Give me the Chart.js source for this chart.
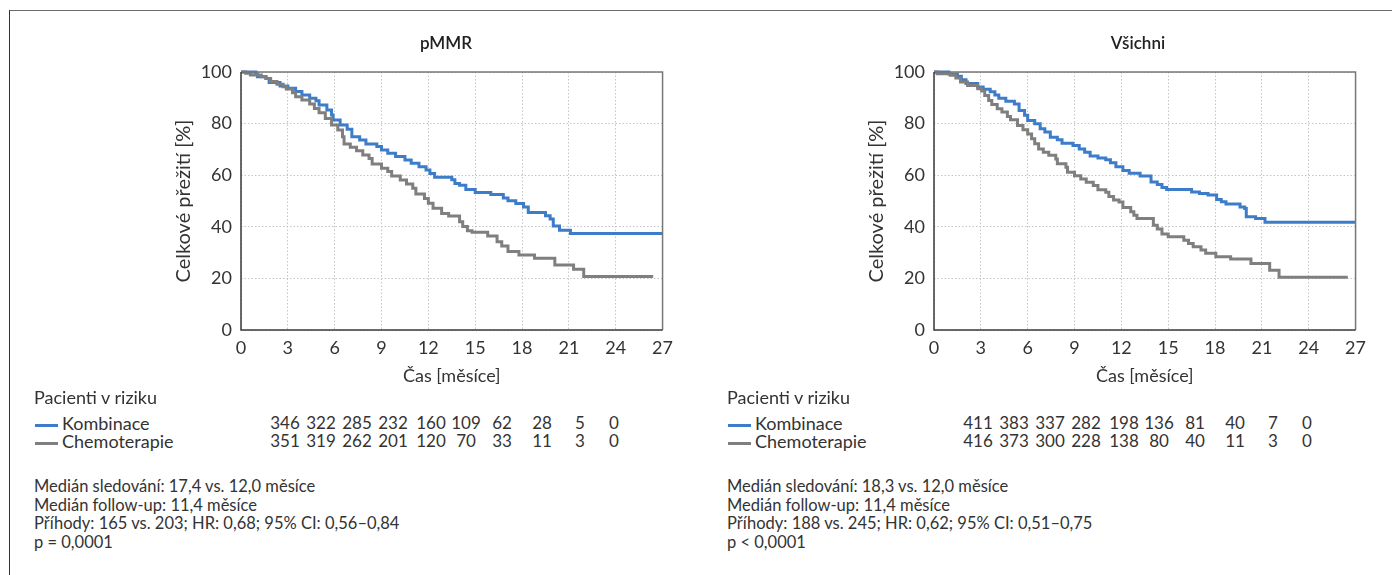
<!DOCTYPE html>
<html>
<head>
<meta charset="utf-8">
<script src="https://cdn.jsdelivr.net/npm/chart.js@4.4.0/dist/chart.umd.min.js"></script>
<style>
  body { margin: 0; background: #fff; font-family: Lato, "Open Sans", sans-serif; color: #333; }
  #page { position: relative; width: 1392px; height: 575px; overflow: hidden; }
  .frameTop { position: absolute; left: 9px; top: 10px; width: 1383px; height: 0; border-top: 1.5px solid #6b6b6b; }
  .frameLeft { position: absolute; left: 9px; top: 10px; width: 0; height: 565px; border-left: 1.5px solid #333; }
  canvas { position: absolute; }
  .txt { position: absolute; white-space: nowrap; font-size: 16.5px; line-height: 18.7px; }
  .risk { position: absolute; white-space: nowrap; font-size: 18px; line-height: 18px; }
  .num { position: absolute; width: 40px; margin-left: -20px; text-align: center; font-size: 17px; }
  .dash { display: inline-block; width: 23px; height: 2.5px; vertical-align: middle; margin-right: 4px; }
</style>
</head>
<body>
<div id="page">
  <div class="frameTop"></div>
  <div class="frameLeft"></div>
  <canvas id="chartPmmr" width="540" height="380" style="left:140px; top:20px;"></canvas>
  <canvas id="chartAll" width="540" height="380" style="left:833px; top:20px;"></canvas>
  <div id="tableLeft"></div>
  <div id="tableRight"></div>
</div>
<script>
// pMMR - Kaplan-Meier (months, % survival)
const pmmrKombT = [0, 0.95, 1.05, 1.6, 1.8, 2.5, 3.0, 3.5, 3.9, 4.4, 4.8, 5.0, 5.5, 5.8, 5.9, 6.35, 6.8, 7.1, 7.6, 8.0, 8.7, 9.0, 9.4, 9.9, 10.5, 10.9, 11.4, 11.85, 12.1, 12.4, 13.5, 13.7, 14.0, 14.4, 15.0, 16.0, 16.8, 17.1, 17.6, 18.1, 18.4, 19.5, 19.8, 20.0, 20.4, 21.1, 27];
const pmmrKombS = [100, 99.2, 98.2, 97.5, 95.9, 94.6, 93.7, 92.4, 91.1, 89.8, 88.9, 87.2, 85.3, 83.3, 81.4, 79.5, 77.8, 74.9, 73.6, 72.1, 71.1, 69.8, 68.5, 67.2, 65.9, 64.6, 63.3, 62.0, 60.7, 59.2, 58.2, 56.8, 56.1, 54.5, 53.3, 52.5, 51.2, 50.1, 49.0, 47.7, 45.5, 44.3, 43.0, 40.3, 38.7, 37.4, 37.4];
const pmmrChemoT = [0, 0.3, 0.6, 1.3, 1.6, 1.9, 2.3, 2.7, 2.9, 3.3, 3.5, 3.9, 4.4, 4.7, 5.0, 5.4, 5.8, 6.2, 6.5, 6.6, 7.0, 7.4, 7.8, 8.2, 8.4, 9.0, 9.4, 9.65, 10.2, 10.6, 11.0, 11.2, 11.75, 12.0, 12.3, 12.85, 13.3, 14.0, 14.2, 14.5, 14.8, 15.8, 16.4, 16.7, 17.1, 17.8, 18.8, 20.1, 21.3, 21.95, 26.4];
const pmmrChemoS = [100, 99.5, 98.8, 98.2, 97.5, 96.3, 95.3, 94.3, 93.4, 92.0, 90.4, 89.1, 87.6, 85.9, 84.2, 82.0, 79.5, 77.5, 74.9, 72.1, 70.8, 69.5, 67.8, 66.5, 64.3, 62.7, 61.4, 59.7, 58.1, 56.6, 54.9, 52.7, 51.0, 49.1, 47.2, 45.2, 44.2, 42.0, 40.1, 38.5, 37.9, 36.4, 34.2, 32.6, 30.4, 29.1, 27.8, 25.2, 23.5, 20.7, 20.7];

// Všichni
const allKombT = [0, 0.95, 1.5, 1.75, 2.05, 2.8, 3.15, 3.6, 3.9, 4.15, 4.6, 5.15, 5.45, 5.8, 6.0, 6.45, 6.8, 7.1, 7.45, 7.9, 8.2, 8.9, 9.3, 9.65, 10.0, 10.5, 11.0, 11.3, 11.65, 12.1, 12.5, 13.2, 13.9, 14.3, 14.6, 14.9, 16.5, 17.0, 17.55, 18.1, 18.4, 18.7, 19.6, 19.9, 20.0, 20.6, 21.2, 27];
const allKombS = [100, 99.2, 98.4, 97.0, 95.5, 94.2, 93.3, 92.3, 91.1, 89.8, 88.7, 87.6, 85.1, 83.2, 81.2, 79.9, 78.0, 76.7, 74.7, 73.7, 72.4, 71.5, 70.2, 68.9, 67.4, 66.7, 66.0, 64.8, 63.3, 61.8, 60.8, 59.7, 57.4, 56.4, 55.2, 54.5, 53.5, 52.9, 52.3, 50.6, 49.7, 48.8, 47.7, 47.1, 43.9, 43.2, 41.8, 41.8];
const allChemoT = [0, 0.2, 1.05, 1.4, 1.7, 2.15, 2.8, 3.05, 3.25, 3.5, 3.7, 4.05, 4.35, 4.7, 4.9, 5.35, 5.7, 6.0, 6.25, 6.45, 6.7, 7.0, 7.35, 7.8, 7.9, 8.45, 8.55, 9.0, 9.4, 9.75, 10.2, 10.5, 11.0, 11.2, 11.5, 11.85, 12.1, 12.6, 12.8, 13.0, 14.05, 14.3, 14.6, 15.0, 16.0, 16.3, 16.6, 17.1, 17.4, 18.05, 19.0, 20.3, 21.5, 22.1, 26.5];
const allChemoS = [100, 99.3, 98.7, 97.7, 96.1, 94.8, 93.5, 92.6, 90.9, 89.0, 87.4, 85.8, 84.5, 82.8, 81.5, 79.3, 77.6, 76.0, 74.1, 72.2, 70.2, 68.9, 67.7, 66.3, 64.4, 63.1, 61.1, 59.8, 58.5, 57.3, 56.0, 54.4, 53.4, 51.7, 50.4, 49.6, 47.5, 45.8, 44.5, 43.2, 40.6, 39.1, 37.2, 36.1, 34.8, 33.5, 32.3, 31.0, 29.7, 28.4, 27.5, 25.8, 23.2, 20.4, 20.4];

// pacienti v riziku
const seriesNames = ['Kombinace', 'Chemoterapie'];
const riskPmmrKomb = [346, 322, 285, 232, 160, 109, 62, 28, 5, 0];
const riskPmmrChemo = [351, 319, 262, 201, 120, 70, 33, 11, 3, 0];
const riskAllKomb = [411, 383, 337, 282, 198, 136, 81, 40, 7, 0];
const riskAllChemo = [416, 373, 300, 228, 138, 80, 40, 11, 3, 0];

const statsPmmr = ['Medián sledování: 17,4 vs. 12,0 měsíce', 'Medián follow-up: 11,4 měsíce', 'Příhody: 165 vs. 203; HR: 0,68; 95% CI: 0,56–0,84', 'p = 0,0001'];
const statsAll = ['Medián sledování: 18,3 vs. 12,0 měsíce', 'Medián follow-up: 11,4 měsíce', 'Příhody: 188 vs. 245; HR: 0,62; 95% CI: 0,51–0,75', 'p < 0,0001'];

const BLUE = '#3d7cc9';
const GREY = '#7f7f7f';
const FONT = 'Lato, "Open Sans", sans-serif';

// rámeček kolem plochy grafu + nadpis panelu
const frame = {
  id: 'frame',
  afterDraw(chart, args, opts) {
    const {ctx, chartArea: a} = chart;
    ctx.save();
    ctx.lineWidth = 1.5;
    ctx.strokeStyle = '#777';
    ctx.beginPath();
    ctx.moveTo(a.left, a.top); ctx.lineTo(a.right, a.top); ctx.lineTo(a.right, a.bottom);
    ctx.stroke();
    ctx.strokeStyle = '#3a3a3a';
    ctx.beginPath();
    ctx.moveTo(a.left, a.top); ctx.lineTo(a.left, a.bottom); ctx.lineTo(a.right, a.bottom);
    ctx.stroke();
    ctx.fillStyle = '#222';
    ctx.font = '600 17px ' + FONT;
    ctx.textAlign = 'center';
    ctx.textBaseline = 'middle';
    ctx.fillText(opts.text, opts.x, 24);
    ctx.restore();
  }
};

function pts(t, s) { return t.map((x, i) => ({x: x, y: s[i]})); }

function makeChart(id, title, titleX, kT, kS, cT, cS) {
  const ds = (data, color) => ({
    data: data, borderColor: color, borderWidth: 3, pointRadius: 0,
    stepped: 'before', fill: false, clip: 4
  });
  return new Chart(document.getElementById(id), {
    type: 'line',
    data: { datasets: [ds(pts(cT, cS), GREY), ds(pts(kT, kS), BLUE)] },
    options: {
      responsive: false, animation: false, devicePixelRatio: 1,
      layout: { padding: { left: 0, right: 17, top: 52, bottom: 0 } },
      plugins: {
        legend: { display: false }, tooltip: { enabled: false }, title: { display: false },
        frame: { text: title, x: titleX }
      },
      scales: {
        x: {
          type: 'linear', min: 0, max: 27,
          ticks: { stepSize: 3, color: '#333', padding: 7, font: { family: FONT, size: 18 } },
          grid: { color: '#c4c4c4', lineWidth: 1, drawTicks: false },
          border: { display: false, dash: [1.5, 2] },
          title: { display: true, text: 'Čas [měsíce]', color: '#333',
                   font: { family: FONT, size: 18 }, padding: { top: 0, bottom: 13 } },
          afterFit(s) { s.height = 70; }
        },
        y: {
          min: 0, max: 100,
          ticks: { stepSize: 20, color: '#333', padding: 9, font: { family: FONT, size: 18 } },
          grid: { color: '#c4c4c4', lineWidth: 1, drawTicks: false },
          border: { display: false, dash: [1.5, 2] },
          title: { display: true, text: 'Celkové přežití [%]', color: '#333',
                   font: { family: FONT, size: 20 }, padding: { top: 32, bottom: 0 } },
          afterFit(s) { s.width = 101; }
        }
      }
    },
    plugins: [frame]
  });
}

makeChart('chartPmmr', 'pMMR', 306, pmmrKombT, pmmrKombS, pmmrChemoT, pmmrChemoS);
makeChart('chartAll', 'Všichni', 305, allKombT, allKombS, allChemoT, allChemoS);

// tabulka rizika + statistiky
function buildTable(el, x0, cols, rows, stats) {
  let h = '<div class="risk" style="left:' + x0 + 'px; top:388px;">Pacienti v riziku</div>';
  rows.forEach((r, i) => {
    const top = 414 + i * 18;
    h += '<div class="risk" style="left:' + (x0 + 1) + 'px; top:' + top + 'px;">' +
         '<span class="dash" style="background:' + r.color + '"></span>' + seriesNames[i] + '</div>';
    r.vals.forEach((v, j) => {
      h += '<div class="risk num" style="left:' + (x0 + cols[j]) + 'px; top:' + top + 'px;">' + v + '</div>';
    });
  });
  stats.forEach((s, i) => {
    h += '<div class="txt" style="left:' + x0 + 'px; top:' + (477 + i * 18.7) + 'px;">' + s + '</div>';
  });
  el.innerHTML = h;
}
const riskCols = [251, 287, 323, 359, 397, 432, 468, 508, 546, 580];
buildTable(document.getElementById('tableLeft'), 34, riskCols,
  [{color: BLUE, vals: riskPmmrKomb}, {color: GREY, vals: riskPmmrChemo}], statsPmmr);
buildTable(document.getElementById('tableRight'), 727, riskCols,
  [{color: BLUE, vals: riskAllKomb}, {color: GREY, vals: riskAllChemo}], statsAll);
</script>
</body>
</html>
